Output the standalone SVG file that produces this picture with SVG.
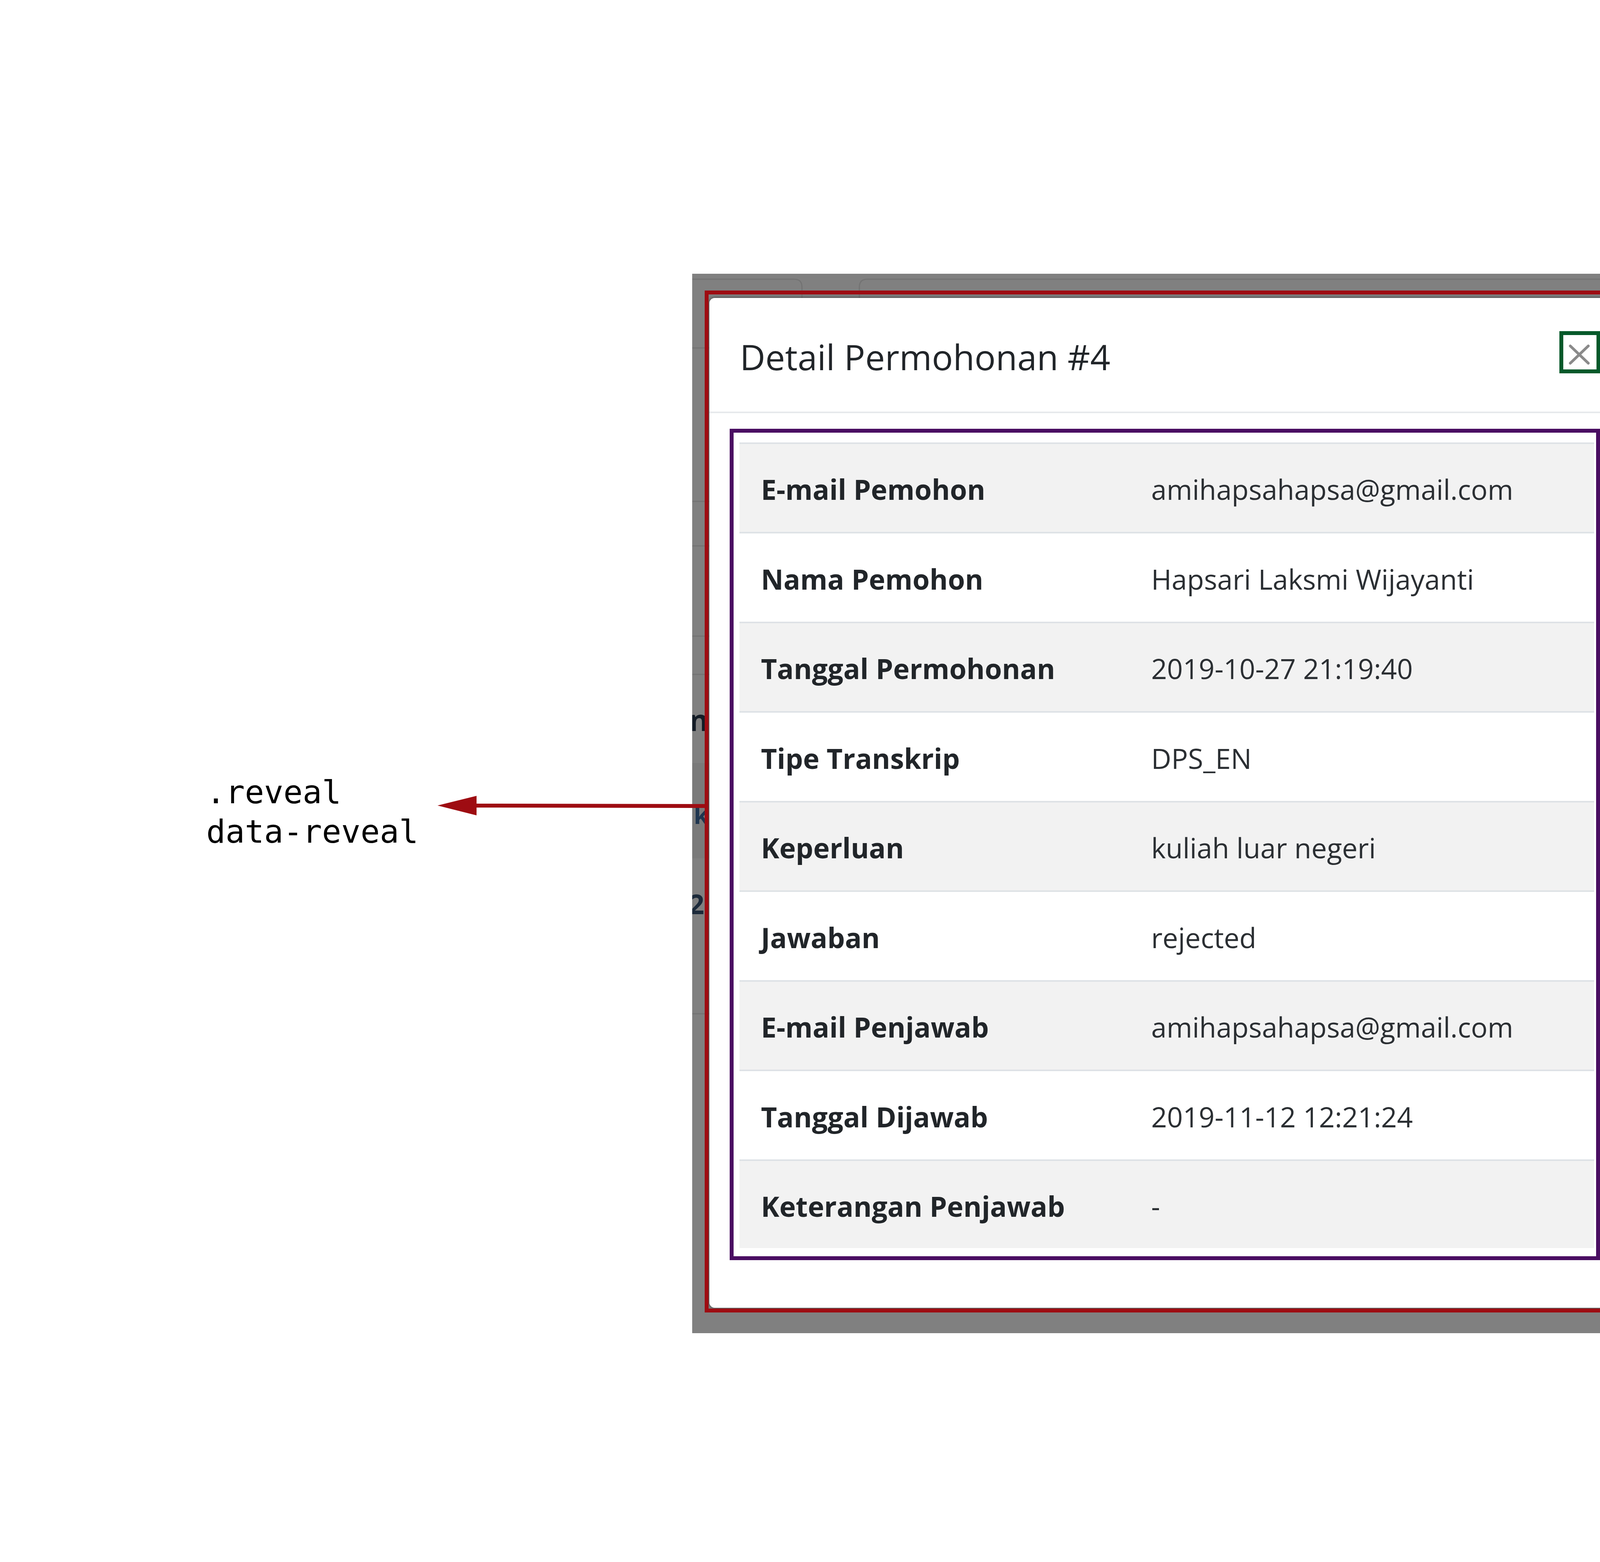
<svg xmlns="http://www.w3.org/2000/svg" width="6000" height="4000" viewBox="0 0 6000 4000">
<style>
.bdline{stroke:#737373;stroke-width:3;fill:none}
.frag{font-family:"Open Sans","Noto Sans",sans-serif;font-weight:700}
.title{font-family:"Open Sans","Noto Sans",sans-serif;font-size:90px;fill:#212529}
.lbl{font-family:"Open Sans","Noto Sans",sans-serif;font-size:71px;font-weight:700;fill:#212529}
.val{font-family:"Open Sans","Noto Sans",sans-serif;font-size:71px;fill:#2b2f33}
.rowA{fill:#f2f2f2}
.rowB{fill:#ffffff}
.rowline{stroke:#dee2e6;stroke-width:4}
.ann{font-family:"DejaVu Sans Mono","Liberation Mono",monospace;font-size:82px;fill:#000}
.conn{fill:none;stroke-width:10}
</style>
<defs>
<clipPath id="bdclip"><rect x="1772" y="701" width="2456" height="2713"/></clipPath>
<marker id="headGreen" markerUnits="userSpaceOnUse" markerWidth="100" markerHeight="50" refX="0" refY="25" orient="auto"><path d="M0,0 L100,25 L0,50 z" fill="#05592a"/></marker>
<marker id="headRed" markerUnits="userSpaceOnUse" markerWidth="100" markerHeight="50" refX="0" refY="25" orient="auto"><path d="M0,0 L100,25 L0,50 z" fill="#9e0c12"/></marker>
<marker id="headPurple" markerUnits="userSpaceOnUse" markerWidth="100" markerHeight="50" refX="0" refY="25" orient="auto"><path d="M0,0 L100,25 L0,50 z" fill="#4a0e62"/></marker>
<filter id="shadow" x="-5%" y="-5%" width="110%" height="110%"><feGaussianBlur in="SourceAlpha" stdDeviation="4"/><feOffset dy="0"/><feComponentTransfer><feFuncA type="linear" slope="0.6"/></feComponentTransfer><feMerge><feMergeNode/><feMergeNode in="SourceGraphic"/></feMerge></filter>
</defs>
<rect width="6000" height="4000" fill="#ffffff"/>

<g id="backdrop" clip-path="url(#bdclip)">
<rect x="1772" y="701" width="2456" height="2713" fill="#808080"/>
<rect x="1772" y="1954" width="2456" height="244" fill="#7a7a7a"/>
<path class="bdline" d="M1772,715 H2033 Q2053,715 2053,735 V1100"/>
<path class="bdline" d="M2200,1100 V735 Q2200,715 2220,715 H4228"/>
<line class="bdline" x1="1772" y1="891" x2="4228" y2="891"/>
<line class="bdline" x1="1772" y1="1284" x2="4228" y2="1284"/>
<line class="bdline" x1="1772" y1="1398" x2="4228" y2="1398"/>
<line class="bdline" x1="1772" y1="1629" x2="4228" y2="1629"/>
<line class="bdline" x1="1772" y1="1727" x2="4228" y2="1727"/>
<line class="bdline" x1="1772" y1="2596" x2="4228" y2="2596"/>
<text class="frag" x="1764" y="1872" font-size="76" fill="#141c26">n</text>
<text class="frag" x="1776" y="2110" font-size="62" font-weight="400" fill="#1f3650">k</text>
<text class="frag" x="1763" y="2341" font-size="70" font-weight="400" fill="#1c2a3a">2</text>
<text class="frag" x="4158" y="2108" font-size="64" font-weight="400" fill="#222222">9</text>
</g>

<g id="modal">
<rect x="1816" y="763" width="2340" height="2586" rx="14" fill="#ffffff" filter="url(#shadow)"/>
<text class="title" x="1894" y="948">Detail Permohonan #4</text>
<line x1="1816" y1="1056" x2="4156" y2="1056" stroke="#e6e9ec" stroke-width="4"/>
</g>

<g id="stack">
<rect class="rowA" x="1893" y="1133" width="2188" height="230"/>
<rect class="rowB" x="1893" y="1363" width="2188" height="229"/>
<rect class="rowA" x="1893" y="1592" width="2188" height="230"/>
<rect class="rowB" x="1893" y="1822" width="2188" height="229"/>
<rect class="rowA" x="1893" y="2051" width="2188" height="230"/>
<rect class="rowB" x="1893" y="2281" width="2188" height="229"/>
<rect class="rowA" x="1893" y="2510" width="2188" height="230"/>
<rect class="rowB" x="1893" y="2740" width="2188" height="229"/>
<rect class="rowA" x="1893" y="2969" width="2188" height="227"/>
<line class="rowline" x1="1893" y1="1135" x2="4081" y2="1135"/>
<line class="rowline" x1="1893" y1="1364" x2="4081" y2="1364"/>
<line class="rowline" x1="1893" y1="1594" x2="4081" y2="1594"/>
<line class="rowline" x1="1893" y1="1823" x2="4081" y2="1823"/>
<line class="rowline" x1="1893" y1="2053" x2="4081" y2="2053"/>
<line class="rowline" x1="1893" y1="2282" x2="4081" y2="2282"/>
<line class="rowline" x1="1893" y1="2512" x2="4081" y2="2512"/>
<line class="rowline" x1="1893" y1="2741" x2="4081" y2="2741"/>
<line class="rowline" x1="1893" y1="2971" x2="4081" y2="2971"/>
<text class="lbl" x="1948" y="1280">E-mail Pemohon</text><text class="val" x="2947" y="1280">amihapsahapsa@gmail.com</text>
<text class="lbl" x="1948" y="1510">Nama Pemohon</text><text class="val" x="2947" y="1510">Hapsari Laksmi Wijayanti</text>
<text class="lbl" x="1948" y="1739">Tanggal Permohonan</text><text class="val" x="2947" y="1739">2019-10-27 21:19:40</text>
<text class="lbl" x="1948" y="1969">Tipe Transkrip</text><text class="val" x="2947" y="1969">DPS_EN</text>
<text class="lbl" x="1948" y="2198">Keperluan</text><text class="val" x="2947" y="2198">kuliah luar negeri</text>
<text class="lbl" x="1948" y="2428">Jawaban</text><text class="val" x="2947" y="2428">rejected</text>
<text class="lbl" x="1948" y="2657">E-mail Penjawab</text><text class="val" x="2947" y="2657">amihapsahapsa@gmail.com</text>
<text class="lbl" x="1948" y="2887">Tanggal Dijawab</text><text class="val" x="2947" y="2887">2019-11-12 12:21:24</text>
<text class="lbl" x="1948" y="3116">Keterangan Penjawab</text><text class="val" x="2947" y="3116">-</text>
<rect x="1873" y="1103" width="2218" height="2119" fill="none" stroke="#4a0e62" stroke-width="10"/>
</g>

<g id="reveal">
<rect x="1809" y="749" width="2354" height="2607" fill="none" stroke="#9e0c12" stroke-width="10"/>
</g>

<g id="close-button">
<rect x="3997" y="853" width="95" height="98" fill="#ffffff" stroke="#05592a" stroke-width="10"/>
<path d="M4020,886 L4066,930 M4066,886 L4020,930" stroke="#8a8a8a" stroke-width="7" stroke-linecap="round" fill="none"/>
</g>

<g id="connectors">
<line id="c-close" class="conn" x1="4097" y1="898" x2="4661" y2="895" stroke="#05592a" marker-end="url(#headGreen)"/>
<line id="c-reveal" class="conn" x1="1809" y1="2064" x2="1220" y2="2063" stroke="#9e0c12" marker-end="url(#headRed)"/>
<line id="c-stack" class="conn" x1="4091" y1="3126" x2="4725" y2="3126" stroke="#4a0e62" marker-end="url(#headPurple)"/>
</g>

<g id="label-close">
<text class="ann" x="4865" y="903">.close-button</text>
<text class="ann" x="4865" y="1002">data-close</text>
</g>
<g id="label-reveal">
<text class="ann" x="528" y="2057">.reveal</text>
<text class="ann" x="528" y="2158">data-reveal</text>
</g>
<g id="label-stack">
<text class="ann" x="4885" y="3146">.stack</text>
</g>
</svg>
